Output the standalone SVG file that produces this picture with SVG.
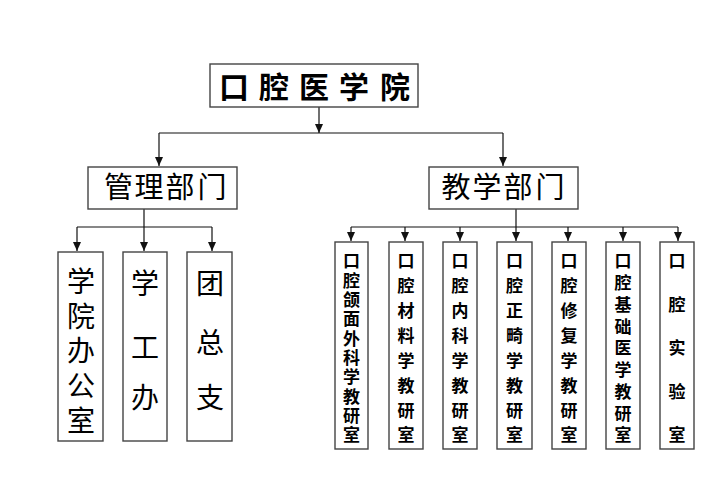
<svg xmlns="http://www.w3.org/2000/svg" width="704" height="485" viewBox="0 0 704 485">
<defs>
<marker id="arr" markerUnits="userSpaceOnUse" markerWidth="9" markerHeight="8" refX="9" refY="4" orient="auto">
<path d="M0,0 L9,4 L0,8 z" fill="#111"/>
</marker>
<style>
.box{fill:#fff;stroke:#444;stroke-width:1.4}
.ln{fill:none;stroke:#111;stroke-width:1.2}
.t{font-family:"Noto Sans CJK SC","Noto Sans CJK TC",sans-serif;fill:#000;text-anchor:middle}
.v{font-family:"Noto Sans CJK SC","Noto Sans CJK TC",sans-serif;fill:#000;writing-mode:vertical-rl;text-orientation:upright}
.top{font-size:30px;font-weight:bold}
.mid{font-size:29px}
.big{font-size:28px}
.sm{font-size:17px;font-weight:bold}
</style>
</defs>
<rect width="704" height="485" fill="#fff"/>
<g id="connectors">
<path class="ln" d="M319,107 V133" marker-end="url(#arr)"/>
<path class="ln" d="M159,133 H503"/>
<path class="ln" d="M159,133 V166" marker-end="url(#arr)"/>
<path class="ln" d="M503,133 V166" marker-end="url(#arr)"/>
<path class="ln" d="M144,209 V227 M77,227 H212"/>
<path class="ln" d="M77,227 V251" marker-end="url(#arr)"/>
<path class="ln" d="M144,227 V251" marker-end="url(#arr)"/>
<path class="ln" d="M212,227 V251" marker-end="url(#arr)"/>
<path class="ln" d="M516,209 V227 M351,227 H678"/>
<path class="ln" d="M351,227 V241" marker-end="url(#arr)"/>
<path class="ln" d="M405,227 V241" marker-end="url(#arr)"/>
<path class="ln" d="M460,227 V241" marker-end="url(#arr)"/>
<path class="ln" d="M516,227 V241" marker-end="url(#arr)"/>
<path class="ln" d="M568,227 V241" marker-end="url(#arr)"/>
<path class="ln" d="M623,227 V241" marker-end="url(#arr)"/>
<path class="ln" d="M678,227 V241" marker-end="url(#arr)"/>
</g>
<g id="n-root">
<rect class="box" x="210" y="64" width="208" height="43"/>
<text class="t top" x="234 274 314 354 395" y="98">口腔医学院</text>
</g>
<g id="n-guanli">
<rect class="box" x="88" y="167" width="149" height="42"/>
<text class="t mid" x="118.5 149 180 212" y="198">管理部门</text>
</g>
<g id="n-jiaoxue">
<rect class="box" x="429" y="167" width="149" height="42"/>
<text class="t mid" x="456 487 518 550" y="198">教学部门</text>
</g>
<g id="n-xybgs">
<rect class="box" x="58" y="252" width="45" height="189"/>
<text class="v big" x="81" y="267.5" letter-spacing="6.6">学院办公室</text>
</g>
<g id="n-xgb">
<rect class="box" x="123" y="252" width="44" height="189"/>
<text class="t big" x="145" y="293.5">学</text>
<text class="t big" x="145" y="357.5">工</text>
<text class="t big" x="145" y="408">办</text>
</g>
<g id="n-tzz">
<rect class="box" x="187" y="252" width="45" height="189"/>
<text class="t big" x="210" y="293.5">团</text>
<text class="t big" x="210" y="352.5">总</text>
<text class="t big" x="210" y="408">支</text>
</g>
<g id="n-r1">
<rect class="box" x="335" y="242" width="33" height="207"/>
<text class="v sm" x="351.5" y="252.5" letter-spacing="2.33">口腔颌面外科学教研室</text>
</g>
<g id="n-r2">
<rect class="box" x="389" y="242" width="34" height="207"/>
<text class="v sm" x="406" y="252.5" letter-spacing="7.86">口腔材料学教研室</text>
</g>
<g id="n-r3">
<rect class="box" x="443" y="242" width="34" height="207"/>
<text class="v sm" x="460" y="252.5" letter-spacing="7.86">口腔内科学教研室</text>
</g>
<g id="n-r4">
<rect class="box" x="497" y="242" width="35" height="207"/>
<text class="v sm" x="514.5" y="252.5" letter-spacing="7.86">口腔正畸学教研室</text>
</g>
<g id="n-r5">
<rect class="box" x="552" y="242" width="34" height="207"/>
<text class="v sm" x="569" y="252.5" letter-spacing="7.86">口腔修复学教研室</text>
</g>
<g id="n-r6">
<rect class="box" x="606" y="242" width="34" height="207"/>
<text class="v sm" x="623" y="252.5" letter-spacing="4.75">口腔基础医学教研室</text>
</g>
<g id="n-r7">
<rect class="box" x="660" y="242" width="34" height="207"/>
<text class="v sm" x="677" y="252.5" letter-spacing="26.5">口腔实验室</text>
</g>
</svg>
